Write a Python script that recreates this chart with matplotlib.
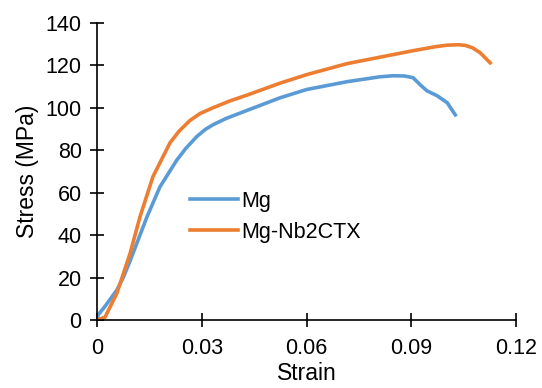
import matplotlib.pyplot as plt

plt.rcParams['font.family'] = ['Liberation Sans', 'DejaVu Sans']

# Mg
mg_strain = [0, 0.0003, 0.0023, 0.0057, 0.0075, 0.0095, 0.0143, 0.018, 0.0229, 0.0255,
             0.0286, 0.031, 0.0332, 0.037, 0.043, 0.0524, 0.06, 0.0716, 0.081,
             0.0848, 0.088, 0.0905, 0.0926, 0.0945, 0.0974, 0.1003, 0.1026]
mg_stress = [0, 2.4, 6.5, 14.2, 20, 28, 48.6, 62.7, 75.5, 81,
             86.5, 89.8, 92, 95, 98.8, 104.7, 108.6, 112.3, 114.6,
             115.1, 115, 114.2, 110.8, 108, 105.7, 102.4, 96.7]

# Mg-Nb2CTX
nb_strain = [0, 0.0023, 0.0057, 0.0095, 0.0123, 0.016, 0.0209, 0.0235, 0.0266,
             0.0295, 0.0332, 0.038, 0.043, 0.0524, 0.06, 0.0716, 0.0905, 0.097,
             0.1003, 0.1035, 0.1055, 0.1075, 0.1097, 0.1126]
nb_stress = [0, 1.4, 12.7, 31.6, 48.6, 67.5, 83.5, 89, 94,
             97.3, 100, 103.2, 106, 111.6, 115.6, 120.8, 126.9, 128.8,
             129.5, 129.7, 129.4, 128.3, 126, 121.2]

fig = plt.figure(figsize=(5.42, 3.88), dpi=100)
ax = fig.add_axes([0.179, 0.175, 0.773, 0.766])

ax.plot(mg_strain, mg_stress, color='#5B9BD5', lw=2.6, label='Mg')
ax.plot(nb_strain, nb_stress, color='#ED7D31', lw=2.6, label='Mg-Nb2CTX')

ax.set_xlim(0, 0.12)
ax.set_ylim(0, 140)
ax.set_xticks([0, 0.03, 0.06, 0.09, 0.12])
ax.set_xticklabels(['0', '0.03', '0.06', '0.09', '0.12'])
ax.set_yticks(range(0, 141, 20))

for s in ['top', 'right']:
    ax.spines[s].set_visible(False)
for s in ['left', 'bottom']:
    ax.spines[s].set_linewidth(1.2)
ax.tick_params(direction='inout', length=10, width=1.2, labelsize=15.5)
ax.tick_params(axis='y', pad=6)
ax.tick_params(axis='x', pad=8)

ax.set_xlabel('Strain', fontsize=16.5, labelpad=2)
ax.set_ylabel('Stress (MPa)', fontsize=16.5, labelpad=5)

ax.legend(loc='center left', bbox_to_anchor=(0.175, 0.348), frameon=False,
          fontsize=15.5, handlelength=2.25, handletextpad=0.15, labelspacing=0.45)

fig.savefig('out.png', dpi=100)
